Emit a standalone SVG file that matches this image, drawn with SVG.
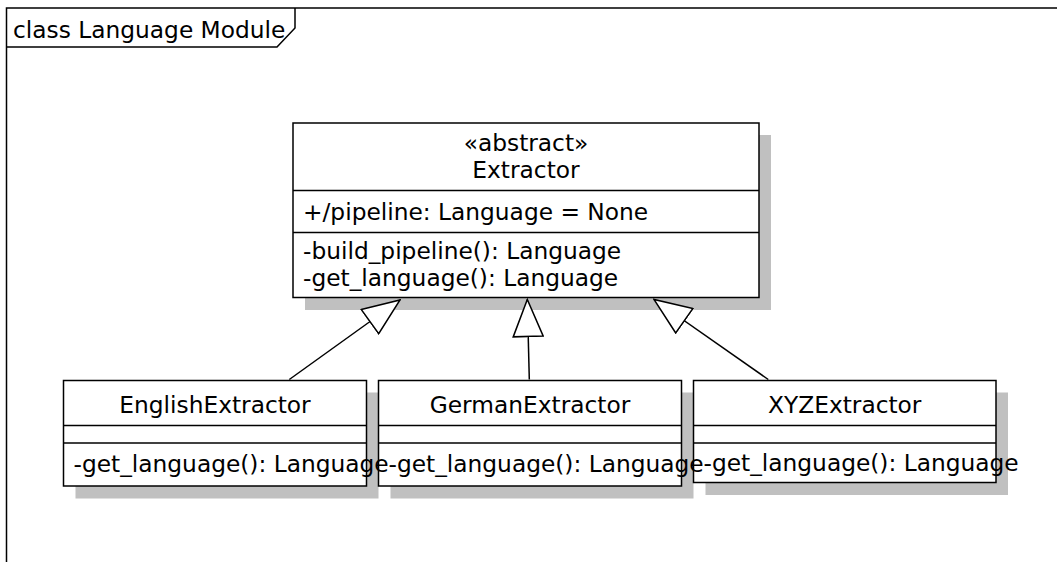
<svg xmlns="http://www.w3.org/2000/svg" width="1057" height="562" viewBox="0 0 1057 562">
  <style>
    .box { fill: #ffffff; stroke: #000000; stroke-width: 1.5; }
    .sep { stroke: #000000; stroke-width: 1.5; fill: none; }
    .shadow { fill: #c0c0c0; stroke: none; }
    .frame { fill: none; stroke: #000000; stroke-width: 1.5; }
    text { font-family: "DejaVu Sans", "Liberation Sans", sans-serif; font-size: 23.3px; fill: #000000; }
    .c { text-anchor: middle; }
    .edge { stroke: #000000; stroke-width: 1.5; fill: none; marker-end: url(#gen); }
  </style>
  <defs>
    <!-- hollow triangle for generalization -->
    <marker id="gen" markerUnits="userSpaceOnUse" viewBox="-1 -1 39 32" refX="37" refY="15" markerWidth="39" markerHeight="32" orient="auto">
      <path d="M0,0 L37,15 L0,30 Z" fill="#ffffff" stroke="#000000" stroke-width="1.5"/>
    </marker>
  </defs>

  <rect width="1057" height="562" fill="#ffffff"/>

  <!-- package frame -->
  <g id="frame">
    <path class="frame" d="M1057,8 H6.5 V562"/>
    <path class="frame" d="M6.5,47 H277 L295,28 V8"/>
    <text x="13" y="38">class Language Module</text>
  </g>

  <!-- drop shadows -->
  <g id="shadows">
    <rect class="shadow" x="305" y="135" width="466" height="175"/>
    <rect class="shadow" x="75.5" y="392.5" width="303" height="106"/>
    <rect class="shadow" x="390.5" y="392.5" width="303" height="106"/>
    <rect class="shadow" x="705.5" y="392.5" width="302.5" height="102.5"/>
  </g>

  <g id="Extractor">
    <rect class="box" x="293" y="123" width="466" height="174.5"/>
    <line class="sep" x1="293" y1="190.5" x2="759" y2="190.5"/>
    <line class="sep" x1="293" y1="232.5" x2="759" y2="232.5"/>
    <text class="c" x="526" y="151">«abstract»</text>
    <text class="c" x="526" y="178">Extractor</text>
    <text x="303" y="219.5">+/pipeline: Language = None</text>
    <text x="303" y="259">-build_pipeline(): Language</text>
    <text x="303" y="285.5">-get_language(): Language</text>
  </g>

  <g id="XYZExtractor">
    <rect class="box" x="693.5" y="380.5" width="302.5" height="102"/>
    <line class="sep" x1="693.5" y1="425.5" x2="996" y2="425.5"/>
    <line class="sep" x1="693.5" y1="443" x2="996" y2="443"/>
    <text class="c" x="844.75" y="413">XYZExtractor</text>
    <text x="703.5" y="471">-get_language(): Language</text>
  </g>

  <g id="GermanExtractor">
    <rect class="box" x="378.5" y="380.5" width="303" height="105.5"/>
    <line class="sep" x1="378.5" y1="425.5" x2="681.5" y2="425.5"/>
    <line class="sep" x1="378.5" y1="443" x2="681.5" y2="443"/>
    <text class="c" x="530" y="413">GermanExtractor</text>
    <text x="388.5" y="472">-get_language(): Language</text>
  </g>

  <g id="EnglishExtractor">
    <rect class="box" x="63.5" y="380.5" width="303" height="105.5"/>
    <line class="sep" x1="63.5" y1="425.5" x2="366.5" y2="425.5"/>
    <line class="sep" x1="63.5" y1="443" x2="366.5" y2="443"/>
    <text class="c" x="215" y="413">EnglishExtractor</text>
    <text x="73.5" y="472">-get_language(): Language</text>
  </g>

  <!-- generalization connectors -->
  <g id="connectors">
    <line class="edge" x1="289.3" y1="379.5" x2="400" y2="300"/>
    <line class="edge" x1="529.3" y1="379.5" x2="527.3" y2="299.5"/>
    <line class="edge" x1="768.3" y1="379.5" x2="654" y2="299.5"/>
  </g>
</svg>
